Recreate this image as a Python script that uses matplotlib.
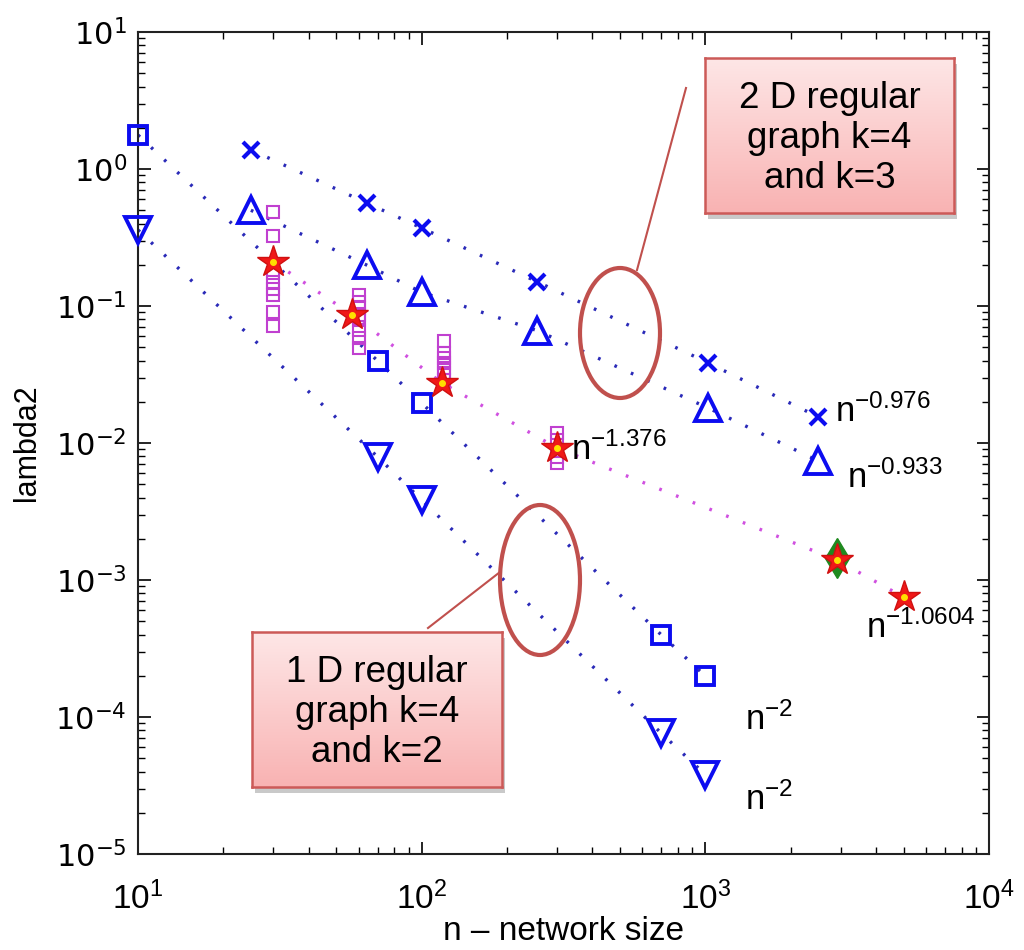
import numpy as np
import matplotlib
matplotlib.use("Agg")
import matplotlib.pyplot as plt
from matplotlib.patches import Ellipse, Rectangle
from matplotlib.lines import Line2D

# ---------------- data ----------------
n_cross = [25, 64, 100, 256, 1024, 2500]
lam_cross = [1.38, 0.565, 0.371, 0.150, 0.0384, 0.0155]

n_tri = [25, 64, 100, 256, 1024, 2500]
lam_tri = [0.50, 0.199, 0.126, 0.066, 0.018, 0.0074]

n_sq = [10, 70, 100, 700, 1000]
lam_sq = [1.77, 0.0397, 0.0196, 0.000397, 0.000199]

n_dtri = [10, 70, 100, 700, 1000]
lam_dtri = [0.359, 0.0079, 0.00384, 7.6e-5, 3.8e-5]

n_star = [30, 57, 118, 300, 2900, 5000]
lam_star = [0.21, 0.086, 0.0274, 0.0092, 0.0014, 0.00075]

n_diam = [2900]
lam_diam = [0.00145]

n_small = [30] * 8 + [60] * 8 + [120] * 7 + [300] * 4
lam_small = [0.485, 0.324, 0.174, 0.150, 0.133, 0.120, 0.090, 0.0714,
             0.120, 0.107, 0.0966, 0.0859, 0.079, 0.0668, 0.0584, 0.0493,
             0.0556, 0.0454, 0.0417, 0.0384, 0.0352, 0.0324, 0.0288,
             0.0119, 0.0106, 0.0079, 0.0071]

x_ticks = [1e1, 1e2, 1e3, 1e4]
y_ticks = [1e-5, 1e-4, 1e-3, 1e-2, 1e-1, 1e0, 1e1]

fit_labels = [r"$\mathregular{n^{-0.976}}$", r"$\mathregular{n^{-0.933}}$",
              r"$\mathregular{n^{-1.376}}$", r"$\mathregular{n^{-1.0604}}$",
              r"$\mathregular{n^{-2}}$", r"$\mathregular{n^{-2}}$"]
box_texts = ["2 D regular\ngraph k=4\nand k=3", "1 D regular\ngraph k=4\nand k=2"]
xlabel = "n \u2013 network size"
ylabel = "lambda2"

# ---------------- style ----------------
plt.rcParams["font.family"] = ["Liberation Sans", "DejaVu Sans"]
plt.rcParams["mathtext.fontset"] = "custom"
plt.rcParams["mathtext.rm"] = "Liberation Sans"
plt.rcParams["mathtext.it"] = "Liberation Sans:italic"
plt.rcParams["mathtext.bf"] = "Liberation Sans:bold"

W, H = 1024, 950
fig = plt.figure(figsize=(W / 100, H / 100), dpi=100)
fig.patch.set_facecolor("white")

def fx(px):
    return px / W

def fy(py):
    return 1 - py / H

L, R, T, B = 138, 989, 32, 854
ax = fig.add_axes([fx(L), fy(B), fx(R) - fx(L), fy(T) - fy(B)])
ax.set_xscale("log")
ax.set_yscale("log")
ax.set_xticks(x_ticks)
ax.set_yticks(y_ticks)
ax.set_xlim(10, 1e4)
ax.set_ylim(1e-5, 10)

blue = "#0c0cf0"
dotblue = "#2a2ab8"
mag = "#c040d0"
dotmag = "#d050e0"
dots = (0, (0.8, 4.6))

for xs, ys in [(n_cross, lam_cross), (n_tri, lam_tri), (n_sq, lam_sq), (n_dtri, lam_dtri)]:
    ax.plot(xs, ys, linestyle=dots, color=dotblue, lw=2.4, zorder=2)
ax.plot(n_star, lam_star, linestyle=dots, color=dotmag, lw=2.4, zorder=2)

ax.plot(n_small, lam_small, ls="none", marker="s", ms=8, mfc="none", mec=mag, mew=1.5, zorder=3)
ax.plot(n_cross, lam_cross, ls="none", marker="x", ms=11, mec=blue, mew=3, zorder=4, clip_on=False)
ax.plot(n_tri, lam_tri, ls="none", marker="^", ms=19, mfc="none", mec=blue, mew=2.8, zorder=4, clip_on=False)
ax.plot(n_sq, lam_sq, ls="none", marker="s", ms=13, mfc="none", mec=blue, mew=2.8, zorder=4, clip_on=False)
ax.plot(n_dtri, lam_dtri, ls="none", marker="v", ms=19, mfc="none", mec=blue, mew=2.8, zorder=4, clip_on=False)
ax.plot(n_diam, lam_diam, ls="none", marker="d", ms=20, mfc="#1f8a1f", mec="#1f8a1f", zorder=5)
ax.plot(n_star, lam_star, ls="none", marker="*", ms=24, mfc="#f01818", mec="#d01010", zorder=6)
ax.plot(n_star, lam_star, ls="none", marker="o", ms=4, mfc="#ffe000", mec="#ffe000", zorder=7)

# fit labels (axes fraction positions)
label_pos = [(0.819, 0.5255), (0.833, 0.445), (0.509, 0.479),
             (0.855, 0.263), (0.713, 0.151), (0.713, 0.0535)]
for txt, (px, py) in zip(fit_labels, label_pos):
    ax.text(px, py, txt, transform=ax.transAxes, fontsize=25, va="baseline", ha="left", zorder=8)

ax.tick_params(which="both", direction="in", top=True, right=True)
ax.tick_params(axis="y", labelsize=22, labelfontfamily="DejaVu Sans", pad=8)
ax.tick_params(axis="x", labelsize=24, pad=20)
ax.tick_params(which="major", length=9, width=1.2)
ax.tick_params(which="minor", length=5, width=1.0)
for s in ax.spines.values():
    s.set_linewidth(1.5)
    s.set_color("#222222")
ax.set_xlabel(xlabel, fontsize=24, labelpad=0)
ax.set_ylabel(ylabel, fontsize=22, labelpad=10)

# ellipses and callout lines (figure pixel positions)
ecol = "#c0504d"
for cx, cy, w, h in [(620, 333, 80, 130), (540, 580, 80, 150)]:
    e = Ellipse((fx(cx), fy(cy)), fx(w), h / H, transform=fig.transFigure,
                fill=False, ec=ecol, lw=3, zorder=10)
    fig.add_artist(e)
for (x0, y0), (x1, y1) in [((637, 270), (686, 88)), ((500, 572), (428, 628))]:
    fig.add_artist(Line2D([fx(x0), fx(x1)], [fy(y0), fy(y1)], transform=fig.transFigure,
                          color=ecol, lw=1.5, zorder=10))

# gradient boxes
grad = np.linspace(0, 1, 256).reshape(-1, 1)
top_c = np.array([0.995, 0.905, 0.905])
bot_c = np.array([0.975, 0.70, 0.70])
img = top_c[None, None, :] * (1 - grad[:, :, None]) + bot_c[None, None, :] * grad[:, :, None]
for (bx0, by0, bx1, by1), txt in zip([(705, 58, 954, 213), (252, 632, 502, 787)], box_texts):
    sh = Rectangle((fx(bx0 + 3), fy(by1 + 6)), fx(bx1 - bx0), (by1 - by0) / H,
                   transform=fig.transFigure, fc="#888888", ec="none", alpha=0.45, zorder=11)
    fig.add_artist(sh)
    bax = fig.add_axes([fx(bx0), fy(by1), fx(bx1 - bx0), (by1 - by0) / H], zorder=12)
    bax.imshow(img, aspect="auto", extent=[0, 1, 0, 1], origin="upper")
    bax.set_xticks([])
    bax.set_yticks([])
    for s in bax.spines.values():
        s.set_color("#cc5a58")
        s.set_linewidth(1.8)
    bax.text(0.5, 0.48, txt, ha="center", va="center", fontsize=26.5, linespacing=1.2,
             transform=bax.transAxes)

fig.savefig("out.png", dpi=100)
